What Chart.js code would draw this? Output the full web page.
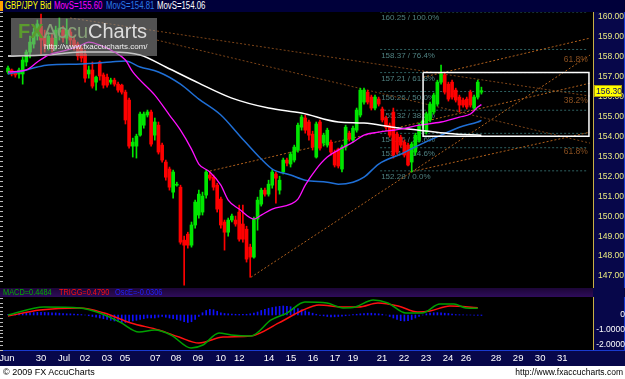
<!DOCTYPE html>
<html><head><meta charset="utf-8">
<script src="https://cdn.jsdelivr.net/npm/chart.js@4"></script>
<style>
html,body{margin:0;padding:0;background:#000;}
body{width:625px;height:379px;position:relative;overflow:hidden;font-family:"Liberation Sans",Arial,sans-serif;}
#title{position:absolute;left:0;top:0;width:625px;height:12px;background:#00003a;font-size:10px;line-height:12px;white-space:nowrap;}
#title span{position:absolute;top:0;transform:scaleX(0.78);transform-origin:left center;}
#mk{position:absolute;left:0;top:1px;width:3px;height:10px;background:#ffa200;}
#c1{position:absolute;left:0;top:12px;}
#macdTitle{position:absolute;left:0;top:288px;width:593px;height:9px;background:linear-gradient(#1c0636,#2e0c5a);font-size:9px;line-height:9px;white-space:nowrap;}
#macdTitle span{position:absolute;top:0;transform:scaleX(0.82);transform-origin:left center;}
#rp2{position:absolute;left:593px;top:288px;width:32px;height:9px;background:#07074a;}
#c2{position:absolute;left:0;top:297px;}
#footer{position:absolute;left:0;top:366px;width:625px;height:13px;background:#fff;color:#000;font-size:9px;line-height:13px;}
#footer .l{position:absolute;left:3px;top:0;}
#footer .r{position:absolute;right:2px;top:0;font-size:8.5px;}
#wm{position:absolute;left:11px;top:18px;width:146px;height:38px;background:rgba(150,150,150,0.55);z-index:5;}
#wm .logo{position:absolute;left:7px;top:2px;font-size:20px;line-height:22px;white-space:nowrap;}
#wm .url{position:absolute;left:33px;top:24px;font-size:8px;line-height:10px;color:#f0f0f0;white-space:nowrap;}
</style></head>
<body>
<div id="title"><div id="mk"></div>
<span style="left:5px;color:#ffff00">GBP/JPY Bid</span>
<span style="left:54px;color:#ff00ff">MovS=155.60</span>
<span style="left:106px;color:#2a7ae8">MovS=154.81</span>
<span style="left:157px;color:#ffffff">MovS=154.06</span>
</div>
<canvas id="c1" width="625" height="276"></canvas>
<div id="wm"><div class="logo"><span style="color:#5b9a2e;font-weight:bold">FX</span><span style="color:#86a078">Accu</span><span style="color:#dcdcdc">Charts</span></div><div class="url">http://www.fxaccucharts.com/</div></div>
<div id="macdTitle">
<span style="left:3px;color:#00b000">MACD=0.4484</span>
<span style="left:59px;color:#ff1010">TRIGG=0.4790</span>
<span style="left:115px;color:#2020ff">OscE=-0.0306</span>
</div>
<div id="rp2"></div>
<canvas id="c2" width="625" height="69"></canvas>
<div id="footer"><span class="l">© 2009 FX AccuCharts</span><span class="r">http://www.fxaccucharts.com</span></div>
<script>
// ---------- DATA ----------
const opens = [157.24,157.34,157.19,157.14,157.14,157.74,158.24,158.64,159.04,159.54,
159.04,158.54,158.94,158.54,159.24,159.34,158.94,159.24,158.84,158.64,
158.44,158.14,157.14,157.34,156.73,157.74,157.09,156.98,156.73,156.83,
156.63,156.58,156.23,155.83,153.52,153.52,154.07,154.57,155.08,155.23,
154.07,154.57,153.57,152.72,152.37,151.21,151.56,151.46,148.80,149.10,
148.55,149.56,150.06,150.21,151.06,152.07,151.96,151.56,150.86,149.71,
149.20,149.81,149.81,150.21,149.61,149.35,148.45,147.95,149.86,150.61,
151.31,151.11,151.56,152.12,151.31,152.22,152.82,152.62,152.82,153.32,
154.47,154.93,154.73,154.12,152.97,154.73,153.67,153.57,153.72,153.22,
153.37,152.37,153.47,154.17,153.82,154.32,155.08,155.73,156.23,155.98,
155.43,155.88,155.38,154.93,154.57,155.23,154.12,153.97,153.72,153.57,
152.72,153.22,153.82,154.57,154.22,154.83,155.23,155.63,156.73,157.09,
156.63,156.73,156.33,155.98,155.83,155.88,156.23,155.43,155.98,156.23];
const highs = [157.54,157.39,157.24,157.44,157.99,158.34,159.04,159.44,159.85,160.15,
159.34,159.24,159.14,159.54,159.95,159.54,159.90,159.44,159.04,158.74,
158.54,158.34,157.54,157.74,157.04,157.79,157.19,157.14,156.93,156.93,
156.73,156.63,156.33,155.93,153.92,154.12,155.23,155.23,155.33,155.33,
154.93,154.73,153.67,152.82,152.47,152.32,151.71,151.56,149.00,149.20,
149.71,150.81,151.31,151.21,152.32,152.22,152.07,151.66,150.96,149.81,
149.91,150.11,150.01,150.56,150.56,149.50,148.60,149.96,150.96,151.41,
151.41,151.81,152.32,152.22,152.01,152.92,152.92,153.22,153.57,154.68,
155.08,155.08,154.83,154.27,154.73,154.83,154.17,154.42,153.82,153.32,
153.42,153.57,154.57,154.27,154.52,155.43,156.43,156.43,156.33,156.08,
156.08,155.98,155.48,155.03,154.68,155.43,154.22,154.07,153.82,153.67,
153.72,154.17,154.68,154.83,155.23,155.73,156.18,156.83,157.59,157.19,
156.73,156.83,156.43,156.08,155.93,155.98,156.33,156.08,156.83,156.48];
const lows = [157.14,157.04,156.98,156.93,156.63,157.54,157.94,158.44,158.84,158.14,
158.24,158.34,158.24,158.34,158.84,158.74,158.64,158.54,158.34,157.84,
157.74,156.73,156.93,156.43,156.33,156.83,156.43,156.48,156.63,156.53,
156.23,156.13,154.63,153.42,152.97,152.92,154.02,154.42,154.98,153.52,
153.82,153.12,152.72,151.81,151.31,150.91,151.51,148.60,146.54,148.40,
148.45,149.40,149.91,150.06,150.91,151.81,151.31,150.21,149.40,148.30,
149.00,149.71,149.50,148.75,148.70,147.70,146.94,147.90,149.30,150.51,
151.01,151.01,151.41,150.66,151.11,152.12,152.52,152.47,152.72,153.22,
154.32,154.17,153.82,153.32,152.92,153.32,153.52,153.47,153.07,152.47,
152.42,152.22,153.32,153.77,153.72,154.22,154.98,155.63,155.63,155.33,
155.33,155.53,154.73,154.37,153.97,152.92,153.12,153.47,152.97,152.52,
152.22,153.07,153.72,154.42,154.12,154.73,155.13,155.53,156.63,156.13,
155.78,155.88,155.73,155.23,155.48,155.38,155.48,155.33,155.88,156.13];
const closes = [157.44,157.14,157.09,157.34,157.84,158.24,158.74,159.24,159.65,158.84,
158.54,159.04,158.44,159.34,159.44,158.94,159.34,158.84,158.54,158.04,
157.94,156.93,157.34,156.53,156.98,157.04,156.58,156.58,156.83,156.63,
156.33,156.23,154.83,153.52,153.72,154.02,155.13,155.13,155.23,153.62,
154.73,153.22,152.82,151.96,151.46,152.22,151.61,148.70,148.55,148.55,
149.56,150.71,151.11,151.01,152.22,151.91,151.46,150.36,149.56,149.20,
149.81,150.01,149.61,148.85,148.85,147.85,147.95,149.86,150.81,151.31,
151.11,151.61,152.22,151.91,151.81,152.82,152.67,153.12,153.47,154.57,
154.98,154.32,154.07,153.47,154.63,153.42,154.07,154.32,153.22,152.57,
152.52,153.47,154.47,153.87,154.42,155.33,156.33,156.33,155.73,155.43,
155.98,155.63,154.83,154.47,154.07,153.07,153.22,153.57,153.07,152.57,
153.62,154.07,154.57,154.78,155.13,155.63,156.08,156.73,157.14,156.23,
155.88,155.98,155.83,155.58,155.58,155.48,155.58,155.98,156.73,156.30];

// moving averages, read at candle positions
const maFastIdx = [0,5,8,11,16,20,22,25,29,32,34,40,44,47,50,52,55,58,60,63,67,69,72,77,79,81,84,87,90,94,97,101,107,112,118,123,126,128,129];
const maFastVal = [157.24,157.34,157.74,158.09,158.34,158.59,158.74,158.59,158.24,157.84,157.24,156.08,155.08,154.32,153.37,152.62,152.22,151.56,150.81,150.36,149.86,150.06,150.36,150.61,150.86,151.56,152.37,152.97,153.32,153.72,154.07,154.22,154.37,154.57,154.73,154.98,155.13,155.48,155.60];
const maMidIdx = [0,4,8,11,20,28,32,36,41,47,52,58,63,69,72,77,81,87,90,94,97,101,107,112,118,123,128,129];
const maMidVal = [157.14,157.29,157.49,157.59,157.64,157.74,157.79,157.49,157.24,156.63,155.88,155.08,154.07,152.87,152.37,152.07,151.81,151.71,151.61,151.71,151.96,152.62,153.12,153.57,154.07,154.47,154.73,154.81];
const maSlowIdx = [0,10,20,28,36,43,52,61,71,80,90,97,105,112,120,129];
const maSlowVal = [158.04,158.09,158.24,158.24,158.09,157.49,156.68,155.93,155.43,155.18,154.73,154.68,154.47,154.32,154.15,154.06];

// Fibonacci retracement
const fibLevels = [160.25,158.37,157.21,156.26,155.32,154.16,153.44,152.28];
const fibPcts = ['100.0%','76.4%','61.8%','50.0%','38.2%','23.6%','14.6%','0.0%'];
const fibSpan = [101.4, 158.0];
// fan / channel lines [fromIdx, fromPrice, toIdx, toPrice]
const trendLines = [
  [16.9,159.95,158.6,156.03],
  [40.6,158.84,158.6,153.67],
  [55.0,152.27,158.6,156.68],
  [66.2,146.94,158.6,158.09],
  [113.1,156.98,158.6,158.94],
  [109.5,152.22,158.6,154.22]
];
const fanLabels = ['61.8%','38.2%','61.8%'];
const fanLabelPrices = [157.84,155.78,153.22];
const boxX = [113.1,158.3];
const boxP = [157.21,154.02];

// price axis
const priceTicks = [147,148,149,150,151,152,153,154,155,156,157,158,159,160];

// MACD panel
const macdIdx = [0,9.8,19.6,25,30.5,35.7,40,44.4,49.9,53.1,57.5,60.8,66.2,71.7,76,80.9,86.9,91.3,94.6,99.5,103.5,108.4,112.8,117.7,121.5,124.8,128];
const macdVal = [0,0.53,0.47,0.13,-0.47,-1.13,-1.0,-1.33,-2.2,-2.0,-1.2,-1.33,-1.4,-0.33,0.13,0.87,0.8,0.47,0.53,1.0,0.8,0.13,0.13,0.73,0.73,0.47,0.45];
const trigIdx = [0,8.7,19.6,26.2,33.5,41.1,46.6,52,58.6,66.2,73.8,80.4,84.7,91.3,95.6,100.8,106.3,111.7,115,120.4,128];
const trigVal = [-0.07,0.33,0.47,0.13,-0.53,-1.0,-1.47,-1.87,-1.47,-1.4,-0.53,0.33,0.67,0.53,0.53,0.8,0.6,0.2,0.27,0.6,0.48];
const oscVal = [0.02,0.04,0.06,0.08,0.1,0.12,0.14,0.16,0.18,0.18,
0.17,0.16,0.15,0.14,0.12,0.1,0.08,0.08,0.06,0.05,
0.03,0.0,-0.05,-0.1,-0.15,-0.2,-0.25,
-0.3,-0.35,-0.4,-0.45,-0.5,-0.5,-0.45,-0.4,-0.35,
-0.3,-0.25,-0.2,-0.2,-0.2,-0.15,
-0.1,-0.15,-0.2,-0.25,-0.3,-0.35,
-0.45,-0.5,-0.45,-0.3,-0.1,
0.15,0.3,0.38,0.35,0.25,0.15,
0.1,0.08,0.06,0.05,0.04,0.04,0.05,0.08,0.12,
0.2,0.3,0.38,0.45,0.5,0.55,0.58,0.6,0.58,0.55,0.5,
0.42,0.35,0.28,0.2,0.12,0.05,
-0.02,-0.06,-0.1,-0.12,-0.12,-0.1,-0.08,-0.05,-0.02,0.02,0.05,0.08,
0.1,0.12,0.12,0.1,0.08,0.05,0.0,
-0.1,-0.2,-0.3,-0.38,-0.4,-0.38,-0.3,-0.2,-0.1,0.0,
0.08,0.12,0.15,0.16,0.15,0.12,0.1,0.06,
0.03,0.02,0.01,0.0,0.0,-0.01,-0.02,-0.03];
const macdTicks = [0,-1,-2];

// time axis
const xLabels = ['Jun','30','Jul','02','03','05','07','08','09','10','12','14','15','16','17','19','21','22','23','24','26','28','29','30','31'];
const xLabelPos = [-0.3,9.0,15.3,21.0,27.0,31.9,40.1,45.8,51.8,58.0,63.0,71.1,77.1,83.1,89.1,94.0,101.9,107.9,113.9,119.9,124.8,133.0,139.0,145.0,151.0];

// ---------- RENDER ----------
const FONT = '"Liberation Sans",Arial,sans-serif';
const XMIN = -1.36, XMAX = 159.4;
const NAVY = '#07074a';

const upColor = '#00e600', downColor = '#ff0000';
const candleColors = closes.map((c,i)=> c >= opens[i] ? upColor : downColor);

function pts(xs, ys){ return xs.map((x,i)=>({x:x, y:ys[i]})); }
function lineDS(data, color, width, dash, order, smooth){
  return {type:'line', data:data, borderColor:color, borderWidth:width, borderDash:dash||[],
    pointRadius:0, fill:false, tension:0, cubicInterpolationMode: smooth?'monotone':'default', order:order};
}
function noPad(s){ s.paddingTop = 0; s.paddingBottom = 0; s.paddingLeft = 0; s.paddingRight = 0; }

const priceDatasets = [];
fibLevels.forEach(lv => priceDatasets.push(lineDS(pts(fibSpan,[lv,lv]), '#2e6060', 1, [2,2], 7)));
trendLines.forEach((t,k) => priceDatasets.push(lineDS(pts([t[0],t[2]],[t[1],t[3]]), k<2?'#7c4418':'#b0601c', 1, [2,2], 6)));
priceDatasets.push({type:'bar', data: highs.map((h,i)=>({x:i, y:[lows[i],h]})), backgroundColor:candleColors,
  barThickness:1, grouped:false, borderWidth:0, order:4});
priceDatasets.push({type:'bar', data: opens.map((o,i)=>({x:i, y:[o,closes[i]]})), backgroundColor:candleColors,
  barThickness:3, grouped:false, borderWidth:0, minBarLength:1, order:3});
priceDatasets.push(lineDS(pts(maSlowIdx,maSlowVal), '#ffffff', 1.5, [], 2, true));
priceDatasets.push(lineDS(pts(maMidIdx,maMidVal), '#1f6fd6', 1.5, [], 2, true));
priceDatasets.push(lineDS(pts(maFastIdx,maFastVal), '#ff10ff', 1.3, [], 1, true));
priceDatasets.push(lineDS(pts([boxX[0],boxX[1],boxX[1],boxX[0],boxX[0]],[boxP[0],boxP[0],boxP[1],boxP[1],boxP[0]]), '#ffffff', 1.5, [], 0));

const priceDeco = {
  id:'priceDeco',
  beforeDraw(c){
    const {ctx, chartArea:a, width, height} = c;
    ctx.save();
    ctx.fillStyle = '#000'; ctx.fillRect(0,0,width,height);
    ctx.fillStyle = NAVY; ctx.fillRect(a.right,0,width-a.right,height);
    ctx.fillStyle = '#c8b048'; ctx.fillRect(a.right,0,1,height);
    ctx.fillStyle = '#1a3ad0'; ctx.fillRect(width-1,0,1,height);
    ctx.restore();
  },
  beforeDatasetsDraw(c){
    const {ctx} = c, xs = c.scales.x, ys = c.scales.y;
    ctx.save();
    ctx.font = '8px ' + FONT; ctx.fillStyle = '#4f8080'; ctx.textBaseline = 'top'; ctx.textAlign = 'left';
    fibLevels.forEach((lv,k)=>{
      ctx.fillText(lv.toFixed(2) + ' / ' + fibPcts[k], xs.getPixelForValue(fibSpan[0])+1, ys.getPixelForValue(lv)+2);
    });
    ctx.restore();
  },
  afterDatasetsDraw(c){
    const {ctx, chartArea:a, width} = c, xs = c.scales.x, ys = c.scales.y;
    ctx.save();
    ctx.font = '8.5px ' + FONT; ctx.fillStyle = '#8a5020'; ctx.textBaseline = 'middle'; ctx.textAlign = 'right';
    fanLabels.forEach((t,k)=> ctx.fillText(t, xs.getPixelForValue(fibSpan[1]), ys.getPixelForValue(fanLabelPrices[k])));
    const last = closes[closes.length-1];
    const y = Math.round(ys.getPixelForValue(last));
    ctx.fillStyle = '#ffff00'; ctx.fillRect(a.right+1, y-6, width-a.right-4, 12);
    ctx.strokeStyle = '#b0a000'; ctx.lineWidth = 1; ctx.strokeRect(a.right+1.5, y-5.5, width-a.right-5, 11);
    ctx.font = '8.5px ' + FONT; ctx.fillStyle = '#101060'; ctx.textAlign = 'left';
    ctx.fillText(last.toFixed(2), a.right+3, y+0.5);
    ctx.restore();
  }
};

new Chart(document.getElementById('c1'), {
  type:'bar',
  data:{datasets:priceDatasets},
  options:{
    responsive:false, animation:false, events:[],
    layout:{padding:0},
    plugins:{legend:{display:false}, tooltip:{enabled:false}},
    scales:{
      x:{type:'linear', min:XMIN, max:XMAX, offset:false, display:false},
      y:{type:'linear', position:'right', min:146.40, max:160.25,
         afterFit(s){ s.width = 32; noPad(s); },
         afterBuildTicks(s){ s.ticks = priceTicks.map(v=>({value:v})); },
         grid:{display:false, drawTicks:false}, border:{display:false},
         ticks:{color:'#e8e880', font:{family:FONT, size:8.5}, padding:5, autoSkip:false,
                callback:v=>Number(v).toFixed(2)}},
      yl:{type:'linear', position:'left', min:146.40, max:160.25,
         afterFit(s){ s.width = 3; noPad(s); },
         grid:{display:true, drawOnChartArea:false, drawTicks:true, tickLength:3, color:'#bbbbbb'},
         border:{display:false}, ticks:{display:false, stepSize:0.25, autoSkip:false}}
    }
  },
  plugins:[priceDeco]
});

const macdDeco = {
  id:'macdDeco',
  beforeDraw(c){
    const {ctx, chartArea:a, width, height} = c;
    ctx.save();
    ctx.fillStyle = '#000'; ctx.fillRect(0,0,width,height);
    ctx.fillStyle = NAVY; ctx.fillRect(a.right,0,width-a.right,height);
    ctx.fillRect(0,a.bottom,width,height-a.bottom);
    ctx.fillStyle = '#c8b048'; ctx.fillRect(a.right,0,1,a.bottom);
    ctx.fillStyle = '#1a3ad0'; ctx.fillRect(width-1,0,1,a.bottom); ctx.fillRect(0,a.bottom,width,1);
    ctx.restore();
  }
};

new Chart(document.getElementById('c2'), {
  type:'bar',
  data:{datasets:[
    {type:'bar', data: oscVal.map((v,i)=>({x:i, y:v})), backgroundColor:'#1010ff', barThickness:1, grouped:false, borderWidth:0, order:3},
    lineDS(pts(trigIdx,trigVal), '#ff1010', 1.5, [], 2, true),
    lineDS(pts(macdIdx,macdVal), '#00a000', 1.5, [], 1, true)
  ]},
  options:{
    responsive:false, animation:false, events:[],
    layout:{padding:{top:1}},
    plugins:{legend:{display:false}, tooltip:{enabled:false}},
    scales:{
      x:{type:'linear', min:XMIN, max:XMAX, offset:false, position:'bottom',
         afterFit(s){ s.height = 16; noPad(s); },
         afterBuildTicks(s){ s.ticks = xLabelPos.map(v=>({value:v})); },
         grid:{display:false, drawTicks:false}, border:{display:false},
         ticks:{color:'#ffffff', font:{family:FONT, size:9.5}, padding:3, autoSkip:false, maxRotation:0,
                callback:(v,i)=>xLabels[i]}},
      y:{type:'linear', position:'right', min:-2.333, max:1.133,
         afterFit(s){ s.width = 32; noPad(s); },
         afterBuildTicks(s){ s.ticks = macdTicks.map(v=>({value:v})); },
         grid:{display:false, drawTicks:false}, border:{display:false},
         ticks:{color:'#ffffff', font:{family:FONT, size:8.5}, padding:2, crossAlign:'far', autoSkip:false,
                callback:v=> v===0 ? '0' : Number(v).toFixed(4)}},
      yl:{type:'linear', position:'left', min:-2.333, max:1.133,
         afterFit(s){ s.width = 3; noPad(s); },
         grid:{display:true, drawOnChartArea:false, drawTicks:true, tickLength:3, color:'#bbbbbb'},
         border:{display:false}, ticks:{display:false, stepSize:0.25, autoSkip:false}}
    }
  },
  plugins:[macdDeco]
});
</script>
</body></html>
